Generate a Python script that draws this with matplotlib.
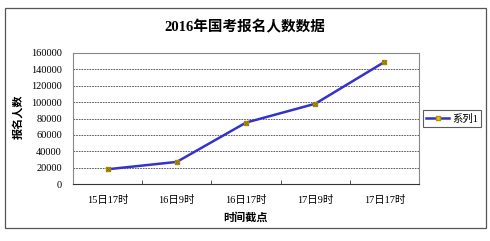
import matplotlib.pyplot as plt
from matplotlib.patches import Rectangle

plt.rcParams['font.family'] = ['Liberation Serif', 'Noto Sans CJK SC']

# data
categories = ["15日17时", "16日9时", "16日17时", "17日9时", "17日17时"]
values = [18000, 27000, 75000, 98000, 149000]
y_ticks = [0, 20000, 40000, 60000, 80000, 100000, 120000, 140000, 160000]

W, H = 490, 241
fig = plt.figure(figsize=(W / 100, H / 100), dpi=100)

# outer chart frame
fig.patches.append(Rectangle((5 / W, 1 - 228 / H), 481 / W, 220 / H,
                             transform=fig.transFigure, fill=False,
                             edgecolor='#555555', linewidth=0.9))

ax = fig.add_axes([73 / W, 1 - 184 / H, 346 / W, 131 / H])

x = list(range(len(categories)))
ax.plot(x, values, color='#3333cc', linewidth=1.8, marker='s', markersize=3.5,
        markerfacecolor='#e6c800', markeredgecolor='#b09000', label='系列1')
ax.plot(x, values, linestyle='none', marker='x', markersize=2.5,
        color='#7a6a00', markeredgewidth=0.7)

ax.set_xlim(-0.5, len(categories) - 0.5)
ax.set_ylim(0, 160000)
ax.set_yticks(y_ticks)
ax.set_yticklabels([str(v) for v in y_ticks], fontsize=7.5)
ax.set_xticks(x)
ax.set_xticklabels(categories, fontsize=7.5)
ax.set_xticks([i + 0.5 for i in range(len(categories) - 1)], minor=True)
ax.tick_params(axis='x', which='major', length=0, pad=8)
ax.tick_params(axis='x', which='minor', direction='in', length=3, color='#333333')
ax.tick_params(axis='y', length=0, pad=8)

for v in y_ticks[1:-1]:
    ax.axhline(v, color='#444444', linestyle=(0, (2, 1.2)), linewidth=0.6, zorder=0)

for s in ax.spines.values():
    s.set_color('#888888')
    s.set_linewidth(0.8)
ax.spines['bottom'].set_color('#333333')

fig.text(245 / W, 1 - 27 / H, '2016年国考报名人数数据', ha='center', va='center',
         fontsize=10.5, fontweight='bold')
fig.text(245 / W, 1 - 217 / H, '时间截点', ha='center', va='center',
         fontsize=8, fontweight='bold')
fig.text(18 / W, 1 - 117 / H, '报名人数', ha='center', va='center', rotation=90,
         fontsize=8, fontweight='bold')

leg = ax.legend(loc='center left', bbox_to_anchor=(1.012, 0.5), fontsize=7.5,
                frameon=True, fancybox=False, handlelength=2.2,
                borderpad=0.3, handletextpad=0.3, borderaxespad=0)
leg.get_frame().set_edgecolor('#333333')
leg.get_frame().set_linewidth(0.8)

fig.savefig('out.png', dpi=100)
